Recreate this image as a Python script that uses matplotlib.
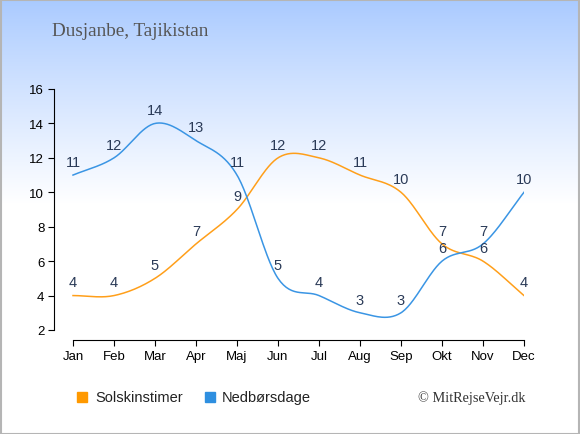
import numpy as np
import matplotlib
matplotlib.use("Agg")
import matplotlib.pyplot as plt

plt.rcParams["font.family"] = ["Liberation Sans", "DejaVu Sans"]

months = ["Jan", "Feb", "Mar", "Apr", "Maj", "Jun", "Jul", "Aug", "Sep", "Okt", "Nov", "Dec"]
sun = [4, 4, 5, 7, 9, 12, 12, 11, 10, 7, 6, 4]
rain = [11, 12, 14, 13, 11, 5, 4, 3, 3, 6, 7, 10]
yticks = [2, 4, 6, 8, 10, 12, 14, 16]

SUN_C = "#FF9F1A"
RAIN_C = "#3A95E4"
LBL_C = "#2A3A57"


def smooth(x, y, n=30, t=0.5):
    x = np.asarray(x, float)
    y = np.asarray(y, float)
    px = np.concatenate([[2 * x[0] - x[1]], x, [2 * x[-1] - x[-2]]])
    py = np.concatenate([[2 * y[0] - y[1]], y, [2 * y[-1] - y[-2]]])
    xs, ys = [], []
    for i in range(1, len(px) - 2):
        s = np.linspace(0, 1, n, endpoint=False)
        m1x = t * (px[i + 1] - px[i - 1]); m2x = t * (px[i + 2] - px[i])
        m1y = t * (py[i + 1] - py[i - 1]); m2y = t * (py[i + 2] - py[i])
        h00 = 2 * s**3 - 3 * s**2 + 1
        h10 = s**3 - 2 * s**2 + s
        h01 = -2 * s**3 + 3 * s**2
        h11 = s**3 - s**2
        xs.append(h00 * px[i] + h10 * m1x + h01 * px[i + 1] + h11 * m2x)
        ys.append(h00 * py[i] + h10 * m1y + h01 * py[i + 1] + h11 * m2y)
    xs.append([x[-1]]); ys.append([y[-1]])
    return np.concatenate(xs), np.concatenate(ys)


fig = plt.figure(figsize=(5.8, 4.35), dpi=100)

# background gradient
bg = fig.add_axes([0, 0, 1, 1], zorder=-10)
grad = np.linspace(0, 1, 435)
alpha = np.clip(grad / 0.47, 0, 1) ** 0.9
top = np.array([0.66, 0.79, 1.0])
img = np.ones((435, 1, 3))
for i, a in enumerate(alpha):
    img[i, 0, :] = top * (1 - a) + np.array([1, 1, 1]) * a
bg.imshow(img, aspect="auto", extent=[0, 1, 0, 1], origin="upper")
bg.set_xlim(0, 1); bg.set_ylim(0, 1)
bg.axis("off")
bg.add_patch(plt.Rectangle((0.001, 0.001), 0.998, 0.997, fill=False, edgecolor="#B5B5B5", lw=1.5,
                           transform=bg.transAxes))

ax = fig.add_axes([54 / 580, (435 - 341) / 435, (524 - 54) / 580, 251 / 435])
ax.patch.set_alpha(0)
x = np.arange(len(months))
ax.set_xlim(-19 / 41, 11)
ax.set_ylim(2 - 10 / 17.2, 16)

sx, sy = smooth(x, sun)
rx, ry = smooth(x, rain)
ax.plot(sx, sy, color=SUN_C, lw=1.1)
ax.plot(rx, ry, color=RAIN_C, lw=1.1)

for series in (sun, rain):
    for xi, v in zip(x, series):
        ax.annotate(str(v), (xi, v), xytext=(0, 9.5), textcoords="offset points", ha="center",
                    va="center", fontsize=10.5, color=LBL_C)

for s in ["top", "right"]:
    ax.spines[s].set_visible(False)
ax.spines["left"].set_bounds(2, 16)
ax.spines["bottom"].set_bounds(0, 11)
ax.set_xticks(x)
ax.set_xticklabels(months)
ax.set_yticks(yticks)
ax.tick_params(axis="both", labelsize=9.5, length=4, direction="out", colors="black", pad=3)

fig.text(52 / 580, 1 - 32 / 435, "Dusjanbe, Tajikistan", fontsize=13.8, color="#555555",
         family="Liberation Serif", va="center", ha="left")
fig.text(526 / 580, 1 - 398 / 435, "© MitRejseVejr.dk", fontsize=10.3, color="#333333",
         family="Liberation Serif", va="center", ha="right")

# legend
fig.patches.append(plt.Rectangle((77 / 580, 1 - 403 / 435), 10 / 580, 10 / 435, color="#FF9900",
                                 transform=fig.transFigure, figure=fig))
fig.text(95 / 580, 1 - 398 / 435, "Solskinstimer", fontsize=10.5, color="#222222", va="center", ha="left")
fig.patches.append(plt.Rectangle((205 / 580, 1 - 403 / 435), 10 / 580, 10 / 435, color="#2E8FE0",
                                 transform=fig.transFigure, figure=fig))
fig.text(222 / 580, 1 - 398 / 435, "Nedbørsdage", fontsize=10.5, color="#222222", va="center", ha="left")

fig.savefig("out.png", dpi=100)
